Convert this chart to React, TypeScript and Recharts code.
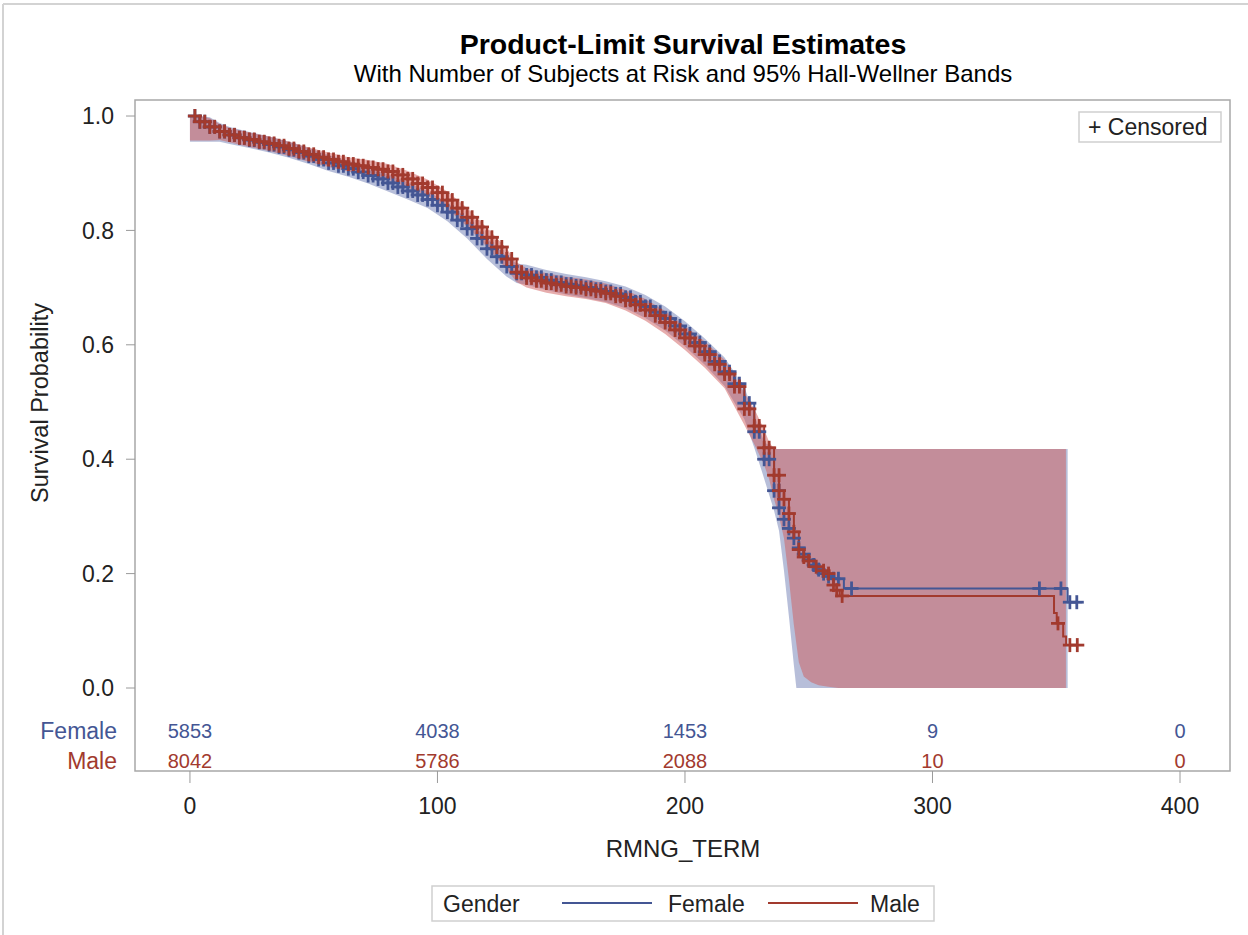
import React from "react";
import {
  ComposedChart,
  Line,
  Area,
  Scatter,
  XAxis,
  YAxis,
  ReferenceArea,
} from "recharts";

const FONT = "'Liberation Sans', Arial, sans-serif";
const FEMALE = "#445694";
const MALE = "#A23A2E";
const FEMALE_BAND = "#6F7EB3";
const MALE_BAND = "#D05B5B";

// survival estimates on a 4-month grid (0..236)
const gridTimes = [
  0, 4, 8, 12, 16, 20, 24, 28, 32, 36, 40, 44, 48, 52, 56, 60, 64, 68, 72, 76,
  80, 84, 88, 92, 96, 100, 104, 108, 112, 116, 120, 124, 128, 132, 136, 140,
  144, 148, 152, 156, 160, 164, 168, 172, 176, 180, 184, 188, 192, 196, 200,
  204, 208, 212, 216, 220, 224, 228, 232, 236,
];
const femaleSurv = [
  1.0, 0.99, 0.981, 0.973, 0.967, 0.962, 0.958, 0.954, 0.95, 0.946, 0.941,
  0.936, 0.93, 0.924, 0.918, 0.913, 0.908, 0.902, 0.896, 0.89, 0.883, 0.876,
  0.869, 0.862, 0.854, 0.844, 0.832, 0.818, 0.803, 0.786, 0.768, 0.754, 0.737,
  0.725, 0.722, 0.718, 0.713, 0.709, 0.706, 0.703, 0.7, 0.697, 0.693, 0.689,
  0.683, 0.675, 0.667, 0.657, 0.646, 0.633, 0.619, 0.604, 0.588, 0.571, 0.553,
  0.532, 0.498, 0.448, 0.4, 0.345,
];
const maleSurv = [
  1.0, 0.99, 0.981, 0.973, 0.967, 0.962, 0.959, 0.955, 0.952, 0.948, 0.943,
  0.938, 0.933, 0.928, 0.924, 0.92, 0.916, 0.913, 0.91, 0.907, 0.903, 0.897,
  0.89, 0.882, 0.875, 0.866, 0.853, 0.839, 0.823, 0.806, 0.788, 0.771, 0.75,
  0.727, 0.717, 0.712, 0.708, 0.705, 0.702, 0.7, 0.697, 0.694, 0.69, 0.685,
  0.678, 0.67, 0.661, 0.651, 0.639, 0.626, 0.612, 0.598, 0.583, 0.566, 0.549,
  0.527, 0.488, 0.458, 0.42, 0.372,
];

// tail of the curves, where the steps get visible
const femaleTailT = [238, 240, 242, 244, 246, 248, 250, 252, 254, 256, 258, 260, 264.2, 354.6, 360.4];
const femaleTailS = [0.315, 0.295, 0.279, 0.262, 0.245, 0.234, 0.224, 0.215, 0.207, 0.2, 0.195, 0.191, 0.174, 0.15, 0.15];
const maleTailT = [238, 240, 242, 244, 246, 248, 250, 253, 256, 258, 260, 261.3, 262.5, 349.1, 350.2, 352.8, 354, 360.8];
const maleTailS = [0.345, 0.33, 0.305, 0.273, 0.242, 0.229, 0.222, 0.212, 0.205, 0.2, 0.18, 0.171, 0.161, 0.131, 0.113, 0.09, 0.075, 0.075];

// censored marks after the dense part
const femaleCensT = [262, 267.3, 343.2, 351.9, 355.5, 358.3];
const femaleCensS = [0.191, 0.174, 0.174, 0.174, 0.15, 0.15];
const maleCensT = [263.5, 350.7, 355.5, 358.5];
const maleCensS = [0.161, 0.113, 0.075, 0.075];

// 95% Hall-Wellner bands
const femaleBandT = [0, 4, 8, 12, 16, 24, 32, 40, 48, 56, 64, 72, 80, 88, 96, 104, 112, 120, 128, 132, 136, 144, 152, 160, 168, 176, 184, 192, 200, 208, 216, 224, 228, 232, 236, 238, 240, 242, 244, 245, 354.6];
const femaleBandLo = [0.955, 0.955, 0.955, 0.955, 0.951, 0.944, 0.936, 0.927, 0.916, 0.904, 0.894, 0.882, 0.868, 0.854, 0.839, 0.816, 0.786, 0.75, 0.719, 0.708, 0.705, 0.696, 0.688, 0.682, 0.675, 0.664, 0.647, 0.625, 0.597, 0.565, 0.528, 0.47, 0.42, 0.366, 0.31, 0.275, 0.205, 0.125, 0.04, 0, 0];
const femaleBandHi = [1, 1, 0.998, 0.988, 0.981, 0.972, 0.964, 0.955, 0.944, 0.932, 0.922, 0.91, 0.898, 0.884, 0.869, 0.848, 0.82, 0.786, 0.755, 0.742, 0.74, 0.731, 0.724, 0.718, 0.711, 0.702, 0.687, 0.667, 0.641, 0.611, 0.578, 0.526, 0.478, 0.43, 0.418, 0.418, 0.418, 0.418, 0.418, 0.418, 0.418];
const maleBandT = [0, 4, 8, 12, 16, 24, 32, 40, 48, 56, 64, 72, 80, 88, 96, 104, 112, 120, 128, 132, 136, 144, 152, 160, 168, 176, 184, 192, 200, 208, 216, 224, 228, 232, 234, 236, 238, 240, 242, 244, 246, 248, 251, 254, 258, 262, 353.9];
const maleBandLo = [0.957, 0.957, 0.957, 0.958, 0.954, 0.946, 0.939, 0.93, 0.92, 0.911, 0.903, 0.896, 0.889, 0.875, 0.86, 0.838, 0.807, 0.771, 0.732, 0.71, 0.7, 0.691, 0.685, 0.68, 0.673, 0.66, 0.642, 0.619, 0.591, 0.56, 0.524, 0.46, 0.426, 0.39, 0.365, 0.33, 0.3, 0.262, 0.19, 0.11, 0.045, 0.02, 0.01, 0.005, 0.002, 0, 0];
const maleBandHi = [1, 1, 0.996, 0.986, 0.979, 0.971, 0.964, 0.955, 0.945, 0.936, 0.928, 0.923, 0.916, 0.904, 0.889, 0.868, 0.839, 0.805, 0.768, 0.744, 0.734, 0.725, 0.719, 0.714, 0.707, 0.696, 0.68, 0.659, 0.633, 0.606, 0.574, 0.516, 0.488, 0.452, 0.43, 0.418, 0.418, 0.418, 0.418, 0.418, 0.418, 0.418, 0.418, 0.418, 0.418, 0.418, 0.418];

// number at risk
const riskTimes = [0, 100, 200, 300, 400];
const femaleAtRisk = [5853, 4038, 1453, 9, 0];
const maleAtRisk = [8042, 5786, 2088, 10, 0];

const yTicks = [0, 0.2, 0.4, 0.6, 0.8, 1.0];

const X_MIN = -22.2;
const X_MAX = 420.2;
const Y_MIN = -0.1451;
const Y_MAX = 1.028;

const femaleCurve = [
  ...gridTimes.map((t, i) => ({ t, s: femaleSurv[i] })),
  ...femaleTailT.map((t, i) => ({ t, s: femaleTailS[i] })),
];
const maleCurve = [
  ...gridTimes.map((t, i) => ({ t, s: maleSurv[i] })),
  ...maleTailT.map((t, i) => ({ t, s: maleTailS[i] })),
];

// censored marks sit on the step: at each grid time and halfway to the next one
const gridMarks = (surv: number[]) =>
  gridTimes.flatMap((t, i) => [
    ...(t > 0 ? [{ t, s: surv[i] }] : []),
    { t: t + 2, s: surv[i] },
  ]);

const femaleMarks = [
  ...gridMarks(femaleSurv),
  ...femaleTailT.filter((t) => t <= 260).map((t, i) => ({ t, s: femaleTailS[i] })),
  ...femaleCensT.map((t, i) => ({ t, s: femaleCensS[i] })),
];
const maleMarks = [
  ...gridMarks(maleSurv),
  ...maleTailT.filter((t) => t <= 261.3).map((t, i) => ({ t, s: maleTailS[i] })),
  ...maleCensT.map((t, i) => ({ t, s: maleCensS[i] })),
];
const femaleBand = femaleBandT.map((t, i) => ({ t, band: [femaleBandLo[i], femaleBandHi[i]] }));
const maleBand = maleBandT.map((t, i) => ({ t, band: [maleBandLo[i], maleBandHi[i]] }));

const plusShape = (color: string) => (props: any) => {
  const { cx, cy } = props;
  if (cx == null || cy == null) return <g />;
  return (
    <g stroke={color} strokeWidth={2.8}>
      <line x1={cx - 7} x2={cx + 7} y1={cy} y2={cy} />
      <line x1={cx} x2={cx} y1={cy - 7} y2={cy + 7} />
    </g>
  );
};

const RiskTick = (props: any) => {
  const { x, y, payload } = props;
  const i = riskTimes.indexOf(payload.value);
  return (
    <g fontFamily={FONT}>
      <text x={x} y={y - 52} textAnchor="middle" dominantBaseline="central" fill={FEMALE} fontSize={20}>
        {femaleAtRisk[i]}
      </text>
      <text x={x} y={y - 22} textAnchor="middle" dominantBaseline="central" fill={MALE} fontSize={20}>
        {maleAtRisk[i]}
      </text>
      <text x={x} y={y + 31} textAnchor="middle" fill="#222" fontSize={23}>
        {payload.value}
      </text>
    </g>
  );
};

export default function App() {
  return (
    <div style={{ position: "absolute", left: 0, top: 0, width: 1248, height: 935, background: "#fff" }}>
      <ComposedChart width={1248} height={935} margin={{ top: 100, right: 18, bottom: 104, left: 75 }}>
        <XAxis
          dataKey="t"
          type="number"
          domain={[X_MIN, X_MAX]}
          allowDataOverflow
          ticks={riskTimes}
          interval={0}
          height={60}
          axisLine={false}
          tickLine={{ stroke: "#9a9a9a" }}
          tickSize={12}
          tickMargin={0}
          tick={<RiskTick />}
        />
        <YAxis
          type="number"
          domain={[Y_MIN, Y_MAX]}
          allowDataOverflow
          ticks={yTicks}
          interval={0}
          width={60}
          axisLine={false}
          tickLine={{ stroke: "#9a9a9a" }}
          tickSize={9}
          tickMargin={12}
          tickFormatter={(v: number) => v.toFixed(1)}
          tick={{ fill: "#222", fontSize: 23, fontFamily: FONT }}
        />
        <Area data={femaleBand} dataKey="band" type="linear" stroke="none" fill={FEMALE_BAND} fillOpacity={0.5} isAnimationActive={false} />
        <Area data={maleBand} dataKey="band" type="linear" stroke="none" fill={MALE_BAND} fillOpacity={0.5} isAnimationActive={false} />
        <Line data={femaleCurve} dataKey="s" type="stepAfter" stroke={FEMALE} strokeWidth={2} dot={false} isAnimationActive={false} />
        <Scatter data={femaleMarks} dataKey="s" shape={plusShape(FEMALE)} isAnimationActive={false} />
        <Line data={maleCurve} dataKey="s" type="stepAfter" stroke={MALE} strokeWidth={2} dot={false} isAnimationActive={false} />
        <Scatter data={maleMarks} dataKey="s" shape={plusShape(MALE)} isAnimationActive={false} />
        <ReferenceArea x1={X_MIN} x2={X_MAX} y1={Y_MIN} y2={Y_MAX} fill="none" stroke="#a8a8a8" strokeWidth={1.5} ifOverflow="visible" />
      </ComposedChart>
      <svg width={1248} height={935} style={{ position: "absolute", left: 0, top: 0, pointerEvents: "none" }} fontFamily={FONT}>
        <line x1={3} x2={3} y1={4} y2={935} stroke="#d3d3d3" strokeWidth={2} />
        <line x1={3} x2={1248} y1={4} y2={4} stroke="#d3d3d3" strokeWidth={2} />
        <text x={683} y={54} textAnchor="middle" fontSize={28.5} fontWeight="bold" fill="#000">
          Product-Limit Survival Estimates
        </text>
        <text x={683} y={82} textAnchor="middle" fontSize={24} fill="#000">
          With Number of Subjects at Risk and 95% Hall-Wellner Bands
        </text>
        <text x={40} y={403} transform="rotate(-90 40 403)" textAnchor="middle" dominantBaseline="central" fontSize={23.5} fill="#222">
          Survival Probability
        </text>
        <text x={683} y={857} textAnchor="middle" fontSize={24} fill="#222">
          RMNG_TERM
        </text>
        <text x={117} y={731} textAnchor="end" dominantBaseline="central" fontSize={23} fill={FEMALE}>
          Female
        </text>
        <text x={117} y={761} textAnchor="end" dominantBaseline="central" fontSize={23} fill={MALE}>
          Male
        </text>
        <rect x={1079} y={112} width={142} height={30} fill="#fff" stroke="#cfcfcf" strokeWidth={1.5} />
        <text x={1088} y={127} dominantBaseline="central" fontSize={23} fill="#222">
          + Censored
        </text>
        <rect x={432} y={886} width={502} height={35} fill="#fff" stroke="#cfcfcf" strokeWidth={1.5} />
        <text x={443} y={904} dominantBaseline="central" fontSize={23} fill="#222">Gender</text>
        <line x1={562} x2={652} y1={903} y2={903} stroke={FEMALE} strokeWidth={2} />
        <text x={668} y={904} dominantBaseline="central" fontSize={23} fill="#222">Female</text>
        <line x1={768} x2={858} y1={903} y2={903} stroke={MALE} strokeWidth={2} />
        <text x={870} y={904} dominantBaseline="central" fontSize={23} fill="#222">Male</text>
      </svg>
    </div>
  );
}
